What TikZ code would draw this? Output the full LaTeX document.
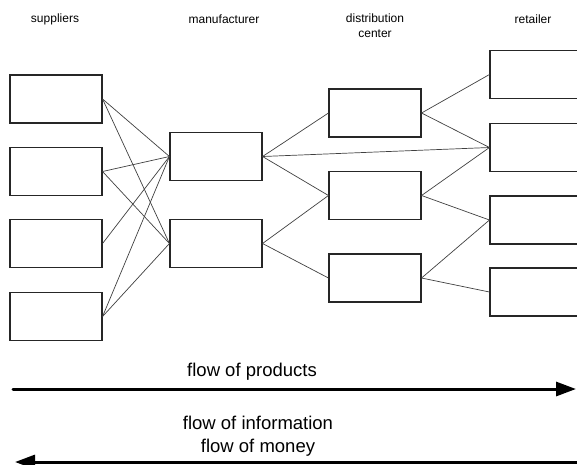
\documentclass[tikz,border=0pt]{standalone}
\usepackage{fontspec}
\setmainfont{Liberation Sans}
\usetikzlibrary{arrows.meta}
\tikzset{
  box/.style={draw=black!85, line width=1.1pt, minimum width=92pt, minimum height=48pt, inner sep=0pt},
  link/.style={draw=black!75, line width=0.7pt},
  flow/.style={line width=3pt, line cap=round, -{Triangle[length=20pt,width=14pt]}},
  head/.style={font=\fontsize{12}{15}\selectfont, align=center, inner sep=0pt},
  flowtext/.style={font=\fontsize{18.5}{23}\selectfont, align=center, inner sep=0pt}
}
\begin{document}
\begin{tikzpicture}[x=1pt,y=1pt,yscale=-1]
\useasboundingbox (0,0) rectangle (577,464);
% Text Node
\node[head] (hsup) at (55,19) {suppliers};
\node[head] (hman) at (224,19) {manufacturer};
\node[head] (hdc) at (375,26) {distribution\\center};
\node[head] (hret) at (533,19) {retailer};
% suppliers
\node[box] (s1) at (56,99) {};
\node[box] (s2) at (56,171.5) {};
\node[box] (s3) at (56,243.5) {};
\node[box] (s4) at (56,316.5) {};
% manufacturer
\node[box] (m1) at (216,156.5) {};
\node[box] (m2) at (216,243.5) {};
% distribution center
\node[box] (d1) at (375,113) {};
\node[box] (d2) at (375,195.5) {};
\node[box] (d3) at (375,278) {};
% retailer
\node[box] (r1) at (536,74.5) {};
\node[box] (r2) at (536,147.5) {};
\node[box] (r3) at (536,220) {};
\node[box] (r4) at (536,292) {};
%Straight Lines
\draw[link] (s1.east) -- (m1.west);
\draw[link] (s1.east) -- (m2.west);
\draw[link] (s2.east) -- (m1.west);
\draw[link] (s2.east) -- (m2.west);
\draw[link] (s3.east) -- (m1.west);
\draw[link] (s4.east) -- (m1.west);
\draw[link] (s4.east) -- (m2.west);
\draw[link] (m1.east) -- (d1.west);
\draw[link] (m1.east) -- (d2.west);
\draw[link] (m1.east) -- (r2.west);
\draw[link] (m2.east) -- (d2.west);
\draw[link] (m2.east) -- (d3.west);
\draw[link] (d1.east) -- (r1.west);
\draw[link] (d1.east) -- (r2.west);
\draw[link] (d2.east) -- (r2.west);
\draw[link] (d2.east) -- (r3.west);
\draw[link] (d3.east) -- (r3.west);
\draw[link] (d3.east) -- (r4.west);
% flows
\coordinate (pstart) at (13,389);
\coordinate (pend) at (576,389);
\coordinate (istart) at (580,462);
\coordinate (iend) at (15,462);
\draw[flow] (pstart) -- (pend);
\draw[flow] (istart) -- (iend);
% Text Node
\node[flowtext] (tprod) at (252,372) {flow of products};
\node[flowtext] (tinfo) at (258,436.5) {flow of information\\flow of money};
\end{tikzpicture}
\end{document}
